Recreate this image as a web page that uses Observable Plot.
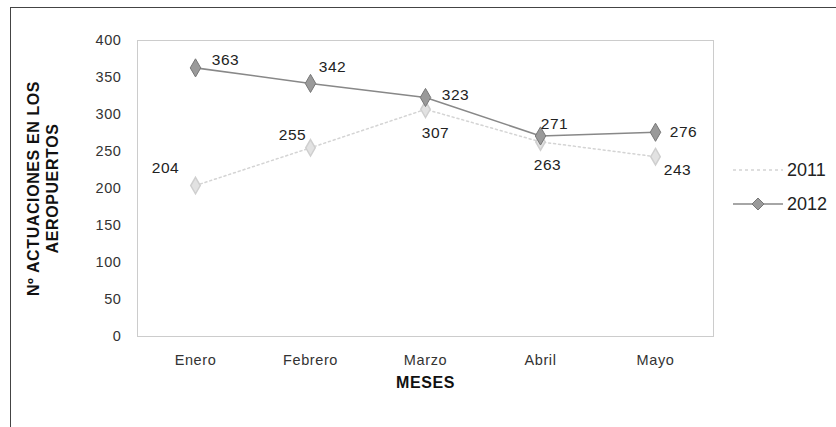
<!DOCTYPE html>
<html><head><meta charset="utf-8">
<script src="https://cdn.jsdelivr.net/npm/d3@7"></script>
<script src="https://cdn.jsdelivr.net/npm/@observablehq/plot@0.6"></script>
<style>
body{margin:0;background:#fff;font-family:"Liberation Sans",Arial,sans-serif;}
#wrap{position:relative;width:836px;height:427px;overflow:hidden;}
#border{position:absolute;left:10px;top:7px;width:900px;height:500px;border:1px solid #444;box-sizing:border-box;}
#chart{position:absolute;left:0;top:0;}
#chart svg text{letter-spacing:0.6px;}
#legend{position:absolute;left:733px;top:153px;font-size:18px;color:#222;}
#legend div{display:flex;align-items:center;height:34px;}
</style></head>
<body><div id="wrap"><div id="border"></div><div id="chart"></div><div id="legend"></div></div>
<script>
const months = ["Enero","Febrero","Marzo","Abril","Mayo"];
const series = ["2011","2012"];
const values2011 = [204, 255, 307, 263, 243];
const values2012 = [363, 342, 323, 271, 276];
const yTicks = [0,50,100,150,200,250,300,350,400];

// label placement (layout, not data)
const off2011 = [[-30,-18],[-18,-13],[10,24],[7,23],[22,13]];
const off2012 = [[30,-8],[22,-16],[30,-2],[14,-12],[28,0]];

const d11 = months.map((m,i)=>({month:m, value:values2011[i], dx:off2011[i][0], dy:off2011[i][1]}));
const d12 = months.map((m,i)=>({month:m, value:values2012[i], dx:off2012[i][0], dy:off2012[i][1]}));

const c11 = "#d4d4d4", c12 = "#888888";

const labels = (data) => data.map(d => Plot.text([d], {x:"month", y:"value", text: d=>String(d.value), dx:d.dx, dy:d.dy, fill:"#222", fontSize:15.5}));

const chart = Plot.plot({
  width:836, height:427,
  marginLeft:137, marginRight:123, marginTop:40, marginBottom:91,
  style:{fontFamily:"'Liberation Sans', Arial, sans-serif", background:"transparent", fontSize:"14.5px"},
  x:{type:"point", domain:months, padding:0.5, label:null, tickSize:0, tickPadding:18},
  y:{domain:[0,400], ticks:yTicks, label:null, tickSize:0, tickPadding:16},
  marks:[
    Plot.frame({stroke:"#999", strokeDasharray:"1,1"}),
    Plot.axisX({tickSize:0, tickPadding:18, fontSize:14.5, fill:"#333", label:null}),
    Plot.axisY({ticks:yTicks, tickSize:0, tickPadding:16, fontSize:14.5, fill:"#333", label:null}),
    Plot.line(d11, {x:"month", y:"value", stroke:c11, strokeWidth:1.5, strokeDasharray:"2,3"}),
    Plot.dot(d11, {x:"month", y:"value", symbol:"diamond", r:5, fill:"#e2e2e2", stroke:"#cfcfcf"}),
    Plot.line(d12, {x:"month", y:"value", stroke:c12, strokeWidth:1.6}),
    Plot.dot(d12, {x:"month", y:"value", symbol:"diamond", r:5.5, fill:"#9a9a9a", stroke:"#777", strokeWidth:1}),
    ...labels(d11),
    ...labels(d12),
    Plot.text(["Nº ACTUACIONES EN LOS\nAEROPUERTOS"], {frameAnchor:"left", textAnchor:"middle", dx:-95, rotate:-90, fontWeight:"bold", fontSize:16, lineHeight:1.2, fill:"#111"}),
    Plot.text(["MESES"], {frameAnchor:"bottom", dy:51, fontWeight:"bold", fontSize:16, fill:"#111"})
  ]
});
document.getElementById("chart").appendChild(chart);

const leg = document.getElementById("legend");
series.forEach((s,i)=>{
  const row = document.createElement("div");
  const sw = i===0
    ? `<svg width="52" height="14"><line x1="0" y1="7" x2="50" y2="7" stroke="${c11}" stroke-width="1.5" stroke-dasharray="3,3"/></svg>`
    : `<svg width="52" height="14"><line x1="0" y1="7" x2="50" y2="7" stroke="${c12}" stroke-width="1.6"/><path d="M25 1 L31 7 L25 13 L19 7 Z" fill="#9a9a9a" stroke="#777"/></svg>`;
  row.innerHTML = sw + `<span style="margin-left:2px">${s}</span>`;
  leg.appendChild(row);
});
</script></body></html>
